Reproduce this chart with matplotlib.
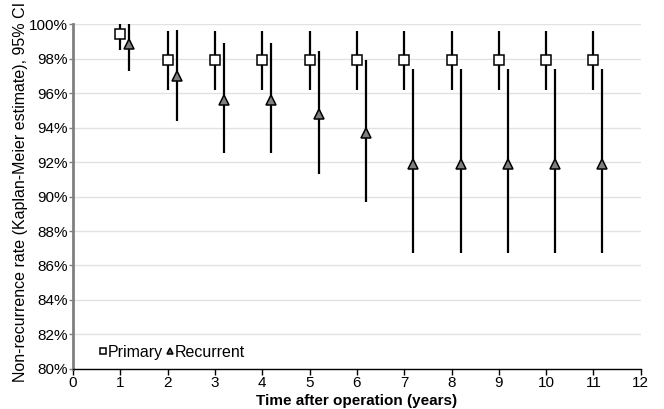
import numpy as np
import matplotlib.pyplot as plt
from matplotlib.ticker import FuncFormatter

plt.rcParams['font.family'] = ['Liberation Sans', 'DejaVu Sans']

# Kaplan-Meier non-recurrence rate (%), with 95% CI
years = np.arange(1, 12)
primary = [99.4, 97.9, 97.9, 97.9, 97.9, 97.9, 97.9, 97.9, 97.9, 97.9, 97.9]
primary_lo = [98.5, 96.2, 96.2, 96.2, 96.2, 96.2, 96.2, 96.2, 96.2, 96.2, 96.2]
primary_hi = [100.0, 99.6, 99.6, 99.6, 99.6, 99.6, 99.6, 99.6, 99.6, 99.6, 99.6]

recurrent = [98.85, 97.0, 95.6, 95.6, 94.8, 93.7, 91.9, 91.9, 91.9, 91.9, 91.9]
recurrent_lo = [97.3, 94.4, 92.55, 92.55, 91.3, 89.7, 86.7, 86.7, 86.7, 86.7, 86.7]
recurrent_hi = [100.0, 99.65, 98.9, 98.9, 98.45, 97.9, 97.4, 97.4, 97.4, 97.4, 97.4]

offset = 0.19

fig = plt.figure(figsize=(6.64, 4.09), dpi=100)
ax = fig.add_axes([0.110, 0.098, 0.855, 0.843])

p = np.array(primary)
r = np.array(recurrent)
perr = [p - np.array(primary_lo), np.array(primary_hi) - p]
rerr = [r - np.array(recurrent_lo), np.array(recurrent_hi) - r]

ax.errorbar(years, p, yerr=perr, fmt='s', color='black', ecolor='black',
            elinewidth=1.6, capsize=0, markersize=7, markerfacecolor='white',
            markeredgecolor='black', markeredgewidth=1.1, label='Primary', zorder=3)
ax.errorbar(years + offset, r, yerr=rerr, fmt='^', color='black', ecolor='black',
            elinewidth=1.6, capsize=0, markersize=7.5, markerfacecolor='#7f7f7f',
            markeredgecolor='black', markeredgewidth=1.1, label='Recurrent', zorder=3)

ax.set_xlim(0, 12)
ax.set_ylim(80, 100)
ax.set_xticks(range(0, 13))
ax.set_yticks(range(80, 101, 2))
ax.yaxis.set_major_formatter(FuncFormatter(lambda v, _: f'{v:.0f}%'))
ax.yaxis.grid(True, color='#e2e2e2', linewidth=1)
ax.set_axisbelow(True)

for s in ['top', 'right']:
    ax.spines[s].set_visible(False)
ax.spines['left'].set_color('#808080')
ax.spines['left'].set_linewidth(2)
ax.spines['bottom'].set_color('black')
ax.spines['bottom'].set_linewidth(1)
ax.tick_params(axis='x', direction='out', length=4, width=1, labelsize=11, pad=1)
ax.tick_params(axis='y', direction='out', length=3, width=1, color='#808080',
               labelsize=11, pad=1)

ax.set_xlabel('Time after operation (years)', fontsize=11, fontweight='bold', labelpad=3)
ax.set_ylabel('Non-recurrence rate (Kaplan-Meier estimate), 95% CI', fontsize=11.5,
              labelpad=0.5)
ax.yaxis.label.set_y(0.512)

h, l = ax.get_legend_handles_labels()
h = [hh[0] for hh in h]
leg = ax.legend(h, l, loc='lower left', bbox_to_anchor=(0.021, -0.015), ncol=2,
                frameon=False, fontsize=11.5, handlelength=0.5, handletextpad=0.05,
                columnspacing=0.2, markerscale=0.62)

fig.savefig('out.png', dpi=100)
